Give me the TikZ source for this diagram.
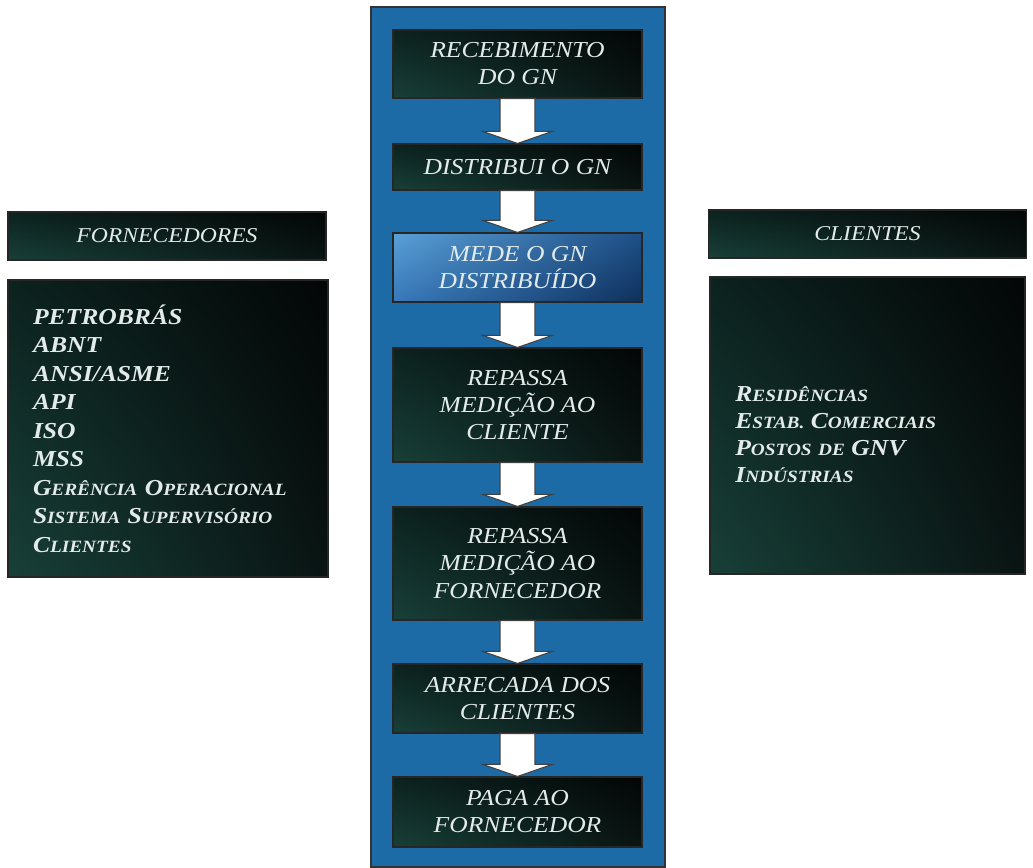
\documentclass[tikz,border=0pt]{standalone}
\usepackage{fontspec}
\setmainfont[FakeStretch=1.12]{Liberation Serif}
\usetikzlibrary{positioning,calc,shadings}

\definecolor{azulpainel}{RGB}{28,106,166}
\definecolor{texto}{RGB}{226,234,234}
\definecolor{verdeA}{RGB}{24,64,56}
\definecolor{verdeB}{RGB}{12,34,31}
\definecolor{verdeC}{RGB}{9,20,19}
\definecolor{verdeD}{RGB}{3,6,6}
\definecolor{azulA}{RGB}{90,160,215}
\definecolor{azulB}{RGB}{55,120,185}
\definecolor{azulC}{RGB}{30,80,135}
\definecolor{azulD}{RGB}{14,48,92}

\newcommand{\pc}[1]{{\fontsize{9.8}{10}\selectfont #1}}

\begin{document}
\begin{tikzpicture}
\tikzset{B/.style={rectangle,draw=black!85,line width=0.6pt,minimum width=4.98cm,align=center,text=texto,
  font=\fontsize{13}{15.4}\selectfont\itshape,
  lower left=verdeA,upper left=verdeB,lower right=verdeC,upper right=verdeD}}
\tikzset{M/.style={B,lower left=azulB,upper left=azulA,lower right=azulD,upper right=azulC}}
\tikzset{H/.style={B,minimum width=6.36cm,minimum height=0.96cm,font=\fontsize{12}{14}\selectfont\itshape}}
\tikzset{L/.style={B,minimum height=5.94cm}}
\tikzset{T/.style={align=left,text=texto,inner sep=0pt,font=\fontsize{13}{15.4}\selectfont\bfseries\itshape}}
\tikzset{F/.style={draw=black!75,line width=0.6pt,fill=white,
  to path={($(\tikztostart.south)+(-0.35,0)$) -- ($(\tikztotarget.north)+(-0.35,0.24)$)
    -- ($(\tikztotarget.north)+(-0.69,0.24)$) -- (\tikztotarget.north)
    -- ($(\tikztotarget.north)+(0.69,0.24)$) -- ($(\tikztotarget.north)+(0.35,0.24)$)
    -- ($(\tikztostart.south)+(0.35,0)$) -- cycle}}}

  \useasboundingbox (0,0) rectangle (20.66,-17.36);
  \filldraw[fill=azulpainel,draw=black!80,line width=0.8pt] (7.42,-0.14) rectangle (13.30,-17.34);

  \node[B,minimum height=1.36cm] (s1) at (10.35,-1.28)  {RECEBIMENTO\\DO GN};
  \node[B,minimum height=0.92cm] (s2) at (10.35,-3.34)  {DISTRIBUI O GN};
  \node[M,minimum height=1.38cm] (s3) at (10.35,-5.35)  {MEDE O GN\\DISTRIBUÍDO};
  \node[B,minimum height=2.28cm] (s4) at (10.35,-8.10)  {REPASSA\\MEDIÇÃO AO\\CLIENTE};
  \node[B,minimum height=2.26cm] (s5) at (10.35,-11.27) {REPASSA\\MEDIÇÃO AO\\FORNECEDOR};
  \node[B,minimum height=1.38cm] (s6) at (10.35,-13.97) {ARRECADA DOS\\CLIENTES};
  \node[B,minimum height=1.40cm] (s7) at (10.35,-16.24) {PAGA AO\\FORNECEDOR};

  \draw[F] (s1) to (s2);
  \draw[F] (s2) to (s3);
  \draw[F] (s3) to (s4);
  \draw[F] (s4) to (s5);
  \draw[F] (s5) to (s6);
  \draw[F] (s6) to (s7);

  \node[H] (hf) at (3.34,-4.72)  {FORNECEDORES};
  \node[H] (hc) at (17.35,-4.68) {CLIENTES};

  \node[L,text width=5.4cm,inner xsep=0.5cm,align=left,font=\fontsize{13}{16.2}\selectfont\bfseries\itshape] (lf) at (3.36,-8.57)
    {PETROBRÁS\\ABNT\\ANSI/ASME\\API\\ISO\\MSS\\G\pc{ERÊNCIA} O\pc{PERACIONAL}\\S\pc{ISTEMA} S\pc{UPERVISÓRIO}\\C\pc{LIENTES}};
  \node[L,minimum width=6.3cm] (lc) at (17.35,-8.51) {};
  \node[T,anchor=west] (itens) at (14.70,-8.70)
    {R\pc{ESIDÊNCIAS}\\E\pc{STAB.} C\pc{OMERCIAIS}\\P\pc{OSTOS} \pc{DE} GNV\\I\pc{NDÚSTRIAS}};
\end{tikzpicture}
\end{document}
